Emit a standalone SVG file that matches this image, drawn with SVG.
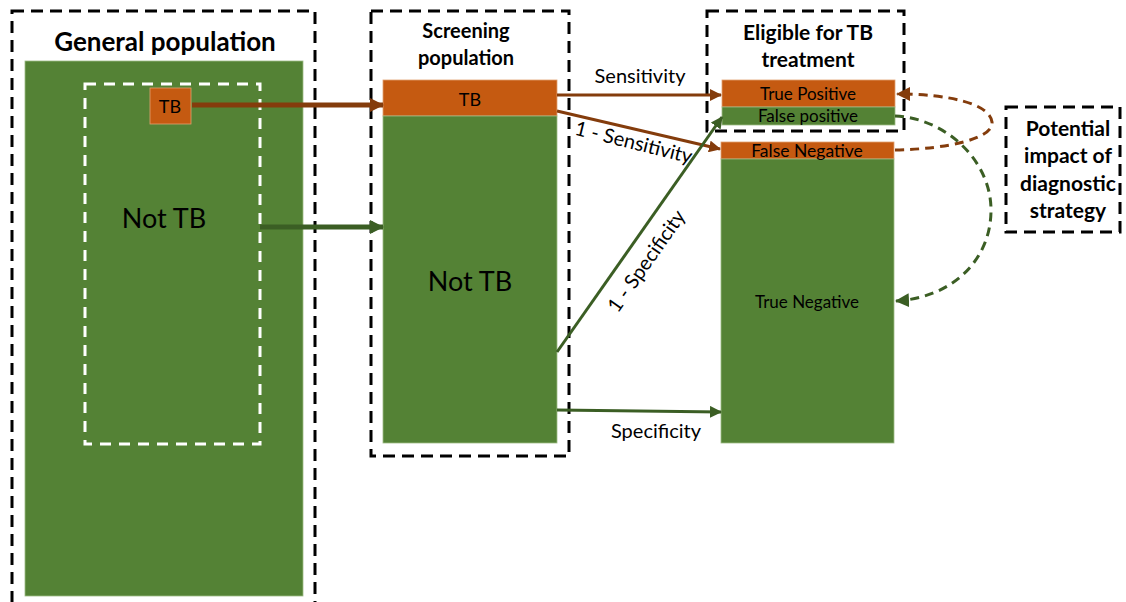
<svg xmlns="http://www.w3.org/2000/svg" width="1126" height="602" viewBox="0 0 1126 602">
<style>
.frame{fill:none;stroke:#000;stroke-width:3;stroke-dasharray:12 7}
.wframe{fill:none;stroke:#fff;stroke-width:3;stroke-dasharray:11 8}
.g{fill:#548235;stroke:#9dbb85;stroke-width:0.8}
.o{fill:#C55A11;stroke:#e0a070;stroke-width:0.8}
text{font-family:Lato,"Open Sans","Liberation Sans",sans-serif;fill:#000;text-anchor:middle}
.h{font-weight:bold;font-size:21px}
.lbl{font-size:20px}
.big{font-size:27px}
.sm{font-size:17px}
.br{stroke:#843C0C;fill:none}
.gr{stroke:#3B5E24;fill:none}
</style>
<defs>
<marker id="ab" markerUnits="userSpaceOnUse" markerWidth="14" markerHeight="14" refX="13" refY="7" orient="auto"><path d="M0,0 L14,7 L0,14 Z" fill="#843C0C"/></marker>
<marker id="ag" markerUnits="userSpaceOnUse" markerWidth="14" markerHeight="14" refX="13" refY="7" orient="auto"><path d="M0,0 L14,7 L0,14 Z" fill="#3B5E24"/></marker>
<marker id="ab2" markerUnits="userSpaceOnUse" markerWidth="12" markerHeight="12" refX="11" refY="6" orient="auto"><path d="M0,0 L12,6 L0,12 Z" fill="#843C0C"/></marker>
<marker id="ag2" markerUnits="userSpaceOnUse" markerWidth="12" markerHeight="12" refX="11" refY="6" orient="auto"><path d="M0,0 L12,6 L0,12 Z" fill="#3B5E24"/></marker>
</defs>

<g id="general-population">
<rect class="frame" x="12" y="11" width="303" height="620"/>
<text class="h" x="165" y="51" style="font-size:26px">General population</text>
<rect class="g" x="25" y="61" width="278" height="535"/>
<rect class="wframe" x="85" y="84" width="175" height="360"/>
<rect class="o" x="150" y="88" width="41" height="36"/>
<text x="170" y="113" style="font-size:18px">TB</text>
<text class="big" x="164" y="228">Not TB</text>
</g>

<g id="screening-population">
<rect class="frame" x="371" y="11" width="198" height="445"/>
<text class="h" x="466" y="38" style="font-size:20px">Screening</text>
<text class="h" x="466" y="65" style="font-size:20px">population</text>
<rect class="o" x="383" y="80" width="174" height="36"/>
<rect class="g" x="383" y="116" width="174" height="327"/>
<text x="470" y="106" style="font-size:18px">TB</text>
<text class="big" x="470" y="291">Not TB</text>
</g>

<g id="eligible-treatment">
<rect class="frame" x="707" y="11" width="197" height="120"/>
<text class="h" x="808" y="40">Eligible for TB</text>
<text class="h" x="808" y="67">treatment</text>
<rect class="o" x="722" y="80" width="173" height="27"/>
<rect class="g" x="722" y="107" width="173" height="18"/>
<text class="sm" x="808" y="100">True Positive</text>
<text class="sm" x="808" y="122">False positive</text>
</g>

<g id="not-eligible">
<rect class="o" x="721" y="142" width="173" height="17"/>
<rect class="g" x="721" y="159" width="173" height="284"/>
<text class="sm" x="807" y="157" style="font-size:17.5px">False Negative</text>
<text class="sm" x="807" y="308">True Negative</text>
</g>

<g id="potential-impact">
<rect class="frame" x="1006" y="107" width="114" height="125"/>
<text class="h" x="1068" y="136">Potential</text>
<text class="h" x="1068" y="163">impact of</text>
<text class="h" x="1068" y="191">diagnostic</text>
<text class="h" x="1068" y="218">strategy</text>
</g>

<g id="connectors">
<line class="br" x1="192" y1="105" x2="383" y2="105" stroke-width="5" marker-end="url(#ab)"/>
<line class="gr" x1="260" y1="227" x2="383" y2="227" stroke-width="5" marker-end="url(#ag)"/>
<line class="br" x1="557" y1="95" x2="721" y2="95" stroke-width="3" marker-end="url(#ab2)"/>
<line class="br" x1="557" y1="111" x2="720" y2="149" stroke-width="3" marker-end="url(#ab2)"/>
<line class="gr" x1="557" y1="352" x2="722" y2="117" stroke-width="3" marker-end="url(#ag2)"/>
<line class="gr" x1="557" y1="410" x2="721" y2="412" stroke-width="3" marker-end="url(#ag2)"/>
<path class="br" d="M895,150 C950,149 994,138 992,122 C990,104 950,94 897,94" stroke-width="3" stroke-dasharray="9 6" marker-end="url(#ab)"/>
<path class="gr" d="M895,116 C945,118 991,160 991,210 C991,262 950,298 896,301" stroke-width="3" stroke-dasharray="9 6" marker-end="url(#ag)"/>
<text class="lbl" x="640" y="83">Sensitivity</text>
<text class="lbl" transform="translate(632,149) rotate(14)">1 - Sensitivity</text>
<text class="lbl" transform="translate(652,265) rotate(-55)">1 - Specificity</text>
<text class="lbl" x="656" y="438">Specificity</text>
</g>
</svg>
